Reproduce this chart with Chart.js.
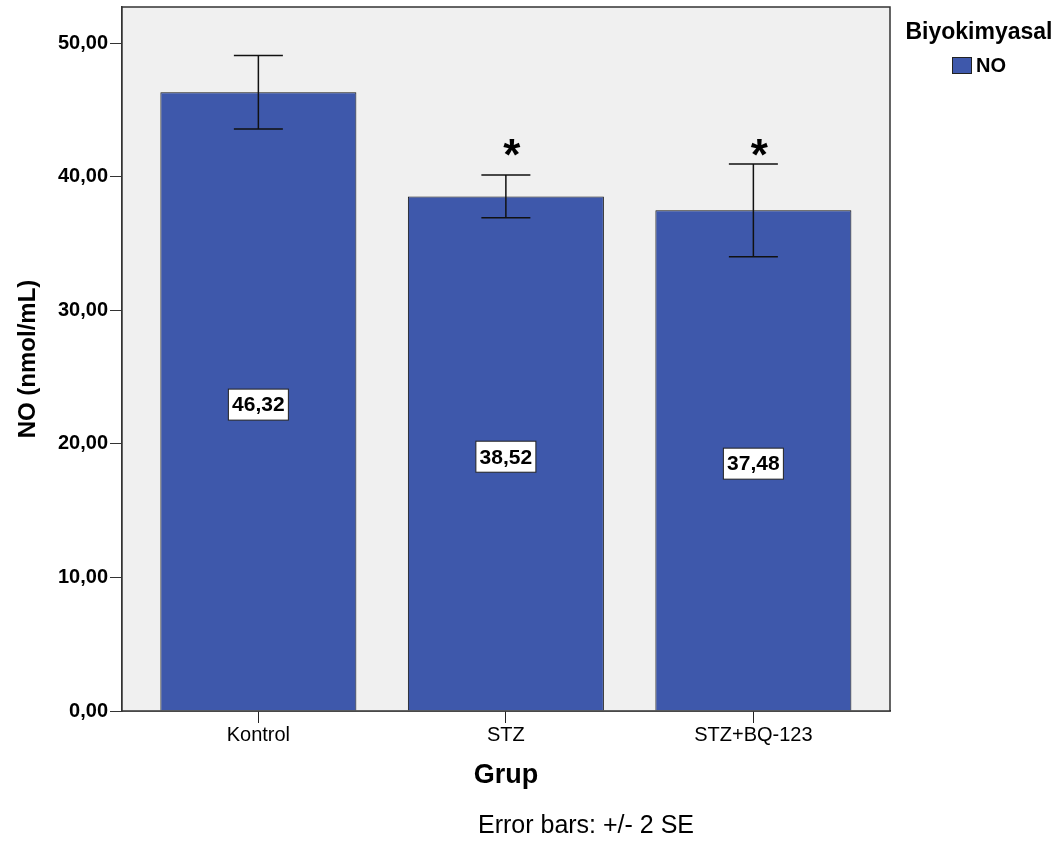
<!DOCTYPE html>
<html><head><meta charset="utf-8">
<script src="https://cdn.jsdelivr.net/npm/chart.js@4"></script>
<style>html,body{margin:0;padding:0;background:#fff}#wrap{width:1061px;height:847px;position:relative}</style>
</head><body><div id="wrap"><canvas id="c"></canvas></div>
<script>
const categories = ['Kontrol', 'STZ', 'STZ+BQ-123'];
const meanValues = [46.32, 38.52, 37.48];
const errorValues = [2.75, 1.60, 3.47];
const significance = ['', '*', '*'];
const yTickValues = [0, 10, 20, 30, 40, 50];
const seriesName = 'NO';
const legendTitle = 'Biyokimyasal';
const xTitle = 'Grup';
const yTitle = 'NO (nmol/mL)';
const footnote = 'Error bars: +/- 2 SE';

const FONT = '"Liberation Sans", Arial, Helvetica, sans-serif';
const BAR = '#3E58AB';
const fmt = v => v.toFixed(2).replace('.', ',');

const decor = {
  id: 'decor',
  beforeDatasetsDraw(chart) {
    const {ctx, chartArea: a} = chart;
    ctx.save();
    ctx.fillStyle = '#F0F0F0';
    ctx.fillRect(a.left, a.top, a.right - a.left, a.bottom - a.top);
    ctx.restore();
  },
  afterDatasetsDraw(chart) {
    const {ctx, chartArea: a, scales: {y}} = chart;
    const meta = chart.getDatasetMeta(0);
    ctx.save();
    ctx.strokeStyle = '#333';
    ctx.lineWidth = 1.5;
    ctx.strokeRect(a.left, a.top, a.right - a.left, a.bottom - a.top);
    meta.data.forEach((bar, i) => {
      const x = bar.x;
      const yHi = y.getPixelForValue(meanValues[i] + errorValues[i]);
      const yLo = y.getPixelForValue(meanValues[i] - errorValues[i]);
      ctx.strokeStyle = '#111';
      ctx.lineWidth = 1.5;
      ctx.beginPath();
      ctx.moveTo(x, yHi); ctx.lineTo(x, yLo);
      ctx.moveTo(x - 24.5, yHi); ctx.lineTo(x + 24.5, yHi);
      ctx.moveTo(x - 24.5, yLo); ctx.lineTo(x + 24.5, yLo);
      ctx.stroke();
      const cy = y.getPixelForValue(meanValues[i] / 2) + 3;
      ctx.fillStyle = '#fff';
      ctx.fillRect(x - 30, cy - 15.5, 60, 31);
      ctx.strokeStyle = '#222';
      ctx.lineWidth = 1;
      ctx.strokeRect(x - 30, cy - 15.5, 60, 31);
      ctx.fillStyle = '#000';
      ctx.font = 'bold 21px ' + FONT;
      ctx.textAlign = 'center';
      ctx.textBaseline = 'middle';
      ctx.fillText(fmt(meanValues[i]), x, cy + 1);
      if (significance[i]) {
        ctx.font = 'bold 44px ' + FONT;
        ctx.textBaseline = 'alphabetic';
        ctx.fillText(significance[i], x + 6, y.getPixelForValue(42.1) + 21);
      }
    });
    // legend
    ctx.fillStyle = '#000';
    ctx.textAlign = 'center';
    ctx.textBaseline = 'middle';
    ctx.font = 'bold 23px ' + FONT;
    ctx.fillText(legendTitle, 979, 33);
    ctx.fillStyle = BAR;
    ctx.fillRect(952, 57, 19, 16);
    ctx.strokeStyle = '#222';
    ctx.lineWidth = 1;
    ctx.strokeRect(952.5, 57.5, 19, 16);
    ctx.fillStyle = '#000';
    ctx.textAlign = 'left';
    ctx.font = 'bold 20px ' + FONT;
    ctx.fillText(seriesName, 976, 66);
    // footnote
    ctx.textAlign = 'center';
    ctx.font = '25px ' + FONT;
    ctx.fillText(footnote, 586, 826);
    ctx.restore();
  }
};

new Chart(document.getElementById('c'), {
  type: 'bar',
  data: {
    datasets: [{
      label: seriesName,
      data: meanValues.map((v, i) => ({x: i, y: v})),
      backgroundColor: BAR,
      borderColor: '#111',
      borderWidth: 1,
      categoryPercentage: 1,
      barPercentage: 0.792
    }]
  },
  options: {
    responsive: true,
    maintainAspectRatio: false,
    animation: false,
    layout: {padding: {left: 0, top: 7, right: 171, bottom: 0}},
    plugins: {legend: {display: false}, tooltip: {enabled: false}},
    scales: {
      x: {
        type: 'linear',
        offset: false,
        min: -0.551,
        max: 2.552,
        afterBuildTicks: s => { s.ticks = categories.map((c, i) => ({value: i})); },
        afterFit: s => { s.height = 136; s.paddingLeft = 0; s.paddingRight = 0; },
        ticks: {
          callback: v => categories[v],
          color: '#000',
          font: {family: FONT, size: 20},
          padding: 0,
          maxRotation: 0,
          autoSkip: false
        },
        grid: {offset: false, drawOnChartArea: false, drawTicks: true, tickLength: 12, color: '#222', lineWidth: 1},
        border: {display: true, color: '#222', width: 1.5},
        title: {display: true, text: xTitle, color: '#000', font: {family: FONT, size: 27, weight: 'bold'}, padding: {top: 0, bottom: 54.8}}
      },
      y: {
        min: 0,
        max: 52.7,
        afterBuildTicks: s => { s.ticks = yTickValues.map(v => ({value: v})); },
        afterFit: s => { s.width = 122; s.paddingTop = 0; s.paddingBottom = 0; },
        ticks: {
          callback: v => fmt(v),
          color: '#000',
          font: {family: FONT, size: 20, weight: 'bold'},
          padding: 2
        },
        grid: {drawOnChartArea: false, drawTicks: true, tickLength: 12, color: '#333', lineWidth: 1},
        border: {display: true, color: '#333', width: 1.5},
        title: {display: true, text: yTitle, color: '#000', font: {family: FONT, size: 24, weight: 'bold'}, padding: {top: 13.6, bottom: 0}}
      }
    }
  },
  plugins: [decor]
});
</script>
</body></html>
